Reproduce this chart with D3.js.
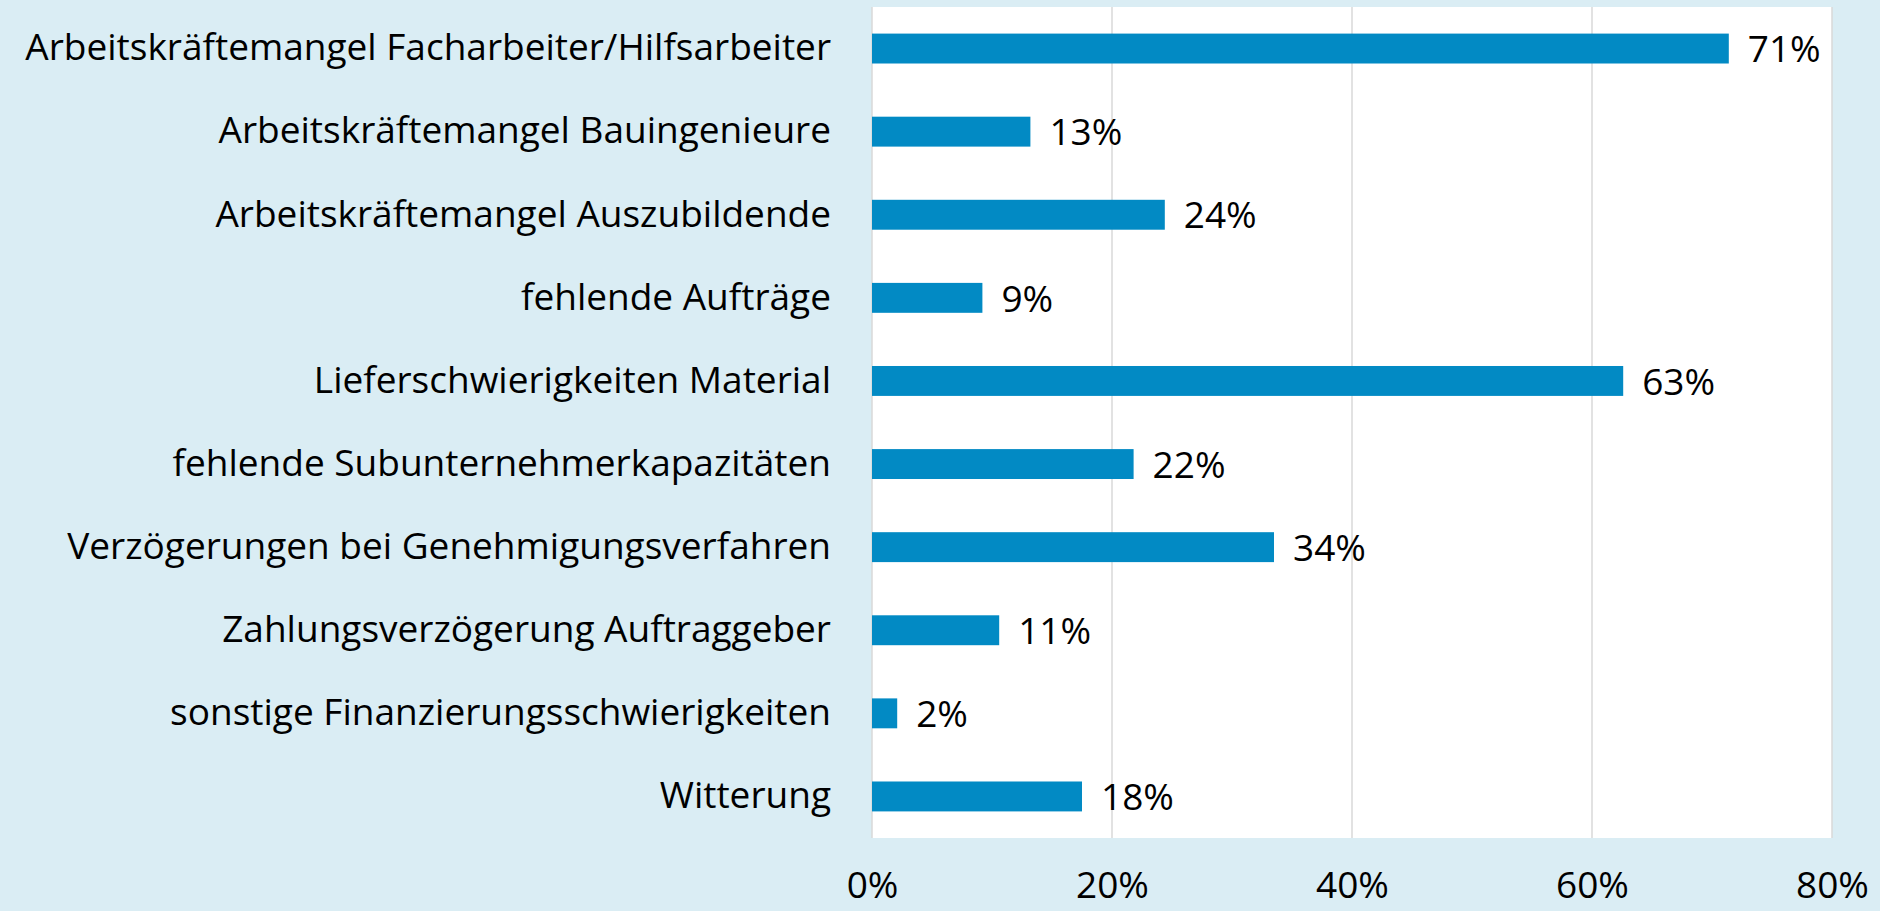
<!DOCTYPE html>
<html>
<head>
    <script src="https://d3js.org/d3.v7.min.js"></script>
    <style type="text/css">
        body {
            margin: 0;
            background-color: #daedf4;
            font-family: "Open Sans", sans-serif;
        }
        .grid line {
            stroke: #d9d9d9;
            stroke-width: 1.5px;
        }
    </style>
</head>
<body>
<div id="chart"></div>
<script type="text/javascript">
    const categories = [
        "Arbeitskräftemangel Facharbeiter/Hilfsarbeiter",
        "Arbeitskräftemangel Bauingenieure",
        "Arbeitskräftemangel Auszubildende",
        "fehlende Aufträge",
        "Lieferschwierigkeiten Material",
        "fehlende Subunternehmerkapazitäten",
        "Verzögerungen bei Genehmigungsverfahren",
        "Zahlungsverzögerung Auftraggeber",
        "sonstige Finanzierungsschwierigkeiten",
        "Witterung"
    ];
    const values = [71.4, 13.2, 24.4, 9.2, 62.6, 21.8, 33.5, 10.6, 2.1, 17.5];
    const ticks = [0, 20, 40, 60, 80];

    const width = 1880, height = 911;
    const plot = { left: 872, right: 1832, top: 7, bottom: 838 };

    const svg = d3.select("#chart").append("svg")
        .attr("width", width)
        .attr("height", height);

    const x = d3.scaleLinear().domain([0, 80]).range([plot.left, plot.right]);
    const y = d3.scaleBand().domain(categories).range([plot.top, plot.bottom]).paddingInner(0.64).paddingOuter(0.32);

    svg.append("rect")
        .attr("x", plot.left)
        .attr("y", plot.top)
        .attr("width", plot.right - plot.left)
        .attr("height", plot.bottom - plot.top)
        .attr("fill", "#fff");

    // gridlines
    svg.append("g")
        .attr("class", "grid")
        .selectAll("line")
        .data(ticks)
        .join("line")
        .attr("x1", d => x(d))
        .attr("x2", d => x(d))
        .attr("y1", plot.top)
        .attr("y2", plot.bottom);

    // bars
    svg.append("g")
        .selectAll("rect")
        .data(values)
        .join("rect")
        .attr("x", x(0))
        .attr("y", (d, i) => y(categories[i]))
        .attr("width", d => x(d) - x(0))
        .attr("height", y.bandwidth())
        .attr("fill", "#028ac4");

    // value labels
    svg.append("g")
        .selectAll("text")
        .data(values)
        .join("text")
        .attr("x", d => x(d) + 19)
        .attr("y", (d, i) => y(categories[i]) + y.bandwidth() / 2)
        .attr("dy", "0.37em")
        .attr("font-size", 37)
        .attr("fill", "#000")
        .text(d => Math.round(d) + "%");

    // category labels
    const yAxis = svg.append("g")
        .attr("transform", `translate(${plot.left},0)`)
        .call(d3.axisLeft(y).tickSize(0).tickPadding(41));
    yAxis.select(".domain").remove();
    yAxis.selectAll("text")
        .attr("font-size", 37)
        .attr("font-family", "Open Sans, sans-serif")
        .attr("fill", "#000");

    // x axis
    const xAxis = svg.append("g")
        .attr("transform", `translate(0,${plot.bottom})`)
        .call(d3.axisBottom(x).tickValues(ticks).tickSize(0).tickPadding(34).tickFormat(d => d + "%"));
    xAxis.select(".domain").remove();
    xAxis.selectAll("text")
        .attr("font-size", 37)
        .attr("font-family", "Open Sans, sans-serif")
        .attr("fill", "#000");
</script>
</body>
</html>
